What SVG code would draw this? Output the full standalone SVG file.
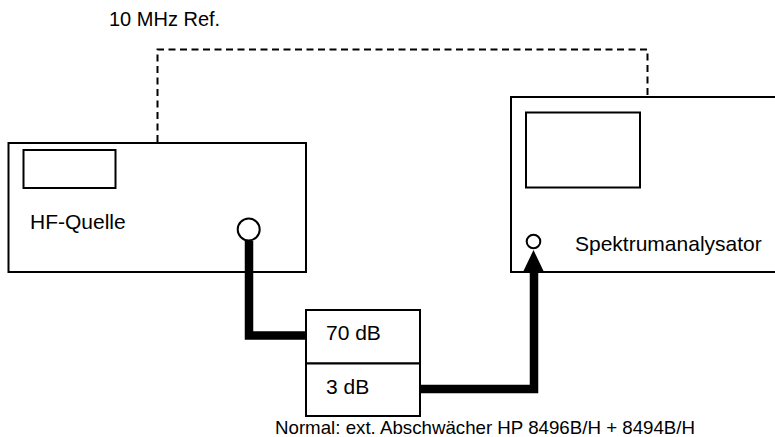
<svg xmlns="http://www.w3.org/2000/svg" width="775" height="437" viewBox="0 0 775 437">
<style>
.box{fill:#fff;stroke:#000;stroke-width:2}
.lbl{font-family:"Liberation Sans",Arial,sans-serif;font-size:21px;fill:#000}
.note{font-family:"Liberation Sans",Arial,sans-serif;font-size:19px;fill:#000}
.cable{fill:none;stroke:#000;stroke-width:8.5;stroke-linejoin:miter}
.ref{fill:none;stroke:#000;stroke-width:2;stroke-dasharray:7,4.5}
</style>
<rect width="775" height="437" fill="#fff"/>
<text class="note" x="109" y="26" style="font-size:20px">10 MHz Ref.</text>
<g id="hf-quelle">
<rect class="box" x="8.5" y="143" width="297.5" height="129"/>
<rect class="box" x="23.5" y="150" width="92" height="38"/>
<text class="lbl" x="30" y="228.5">HF-Quelle</text>
</g>
<g id="spektrumanalysator">
<rect class="box" x="511" y="97" width="290" height="175"/>
<rect class="box" x="526" y="112.5" width="114" height="75"/>
<text class="lbl" x="575" y="251">Spektrumanalysator</text>
</g>
<g id="attenuator">
<rect class="box" x="306" y="310" width="114" height="53.5"/>
<rect class="box" x="306" y="363.5" width="114" height="52.5"/>
<text class="lbl" x="326" y="340">70 dB</text>
<text class="lbl" x="326" y="393.5">3 dB</text>
</g>
<g id="connectors">
<path class="ref" d="M157.5,142 V49.5 H647.5 V96"/>
<path class="cable" d="M249,241 V335.5 H305"/>
<path class="cable" d="M421,389 H534 V268"/>
<polygon points="523,272 544,272 533.5,250" fill="#000"/>
</g>
<g id="ports">
<circle class="box" cx="248.7" cy="229.5" r="11"/>
<circle class="box" cx="533.5" cy="241.5" r="6.8"/>
</g>
<text class="note" x="275" y="434" textLength="420" lengthAdjust="spacingAndGlyphs">Normal: ext. Abschwächer HP 8496B/H + 8494B/H</text>
</svg>
